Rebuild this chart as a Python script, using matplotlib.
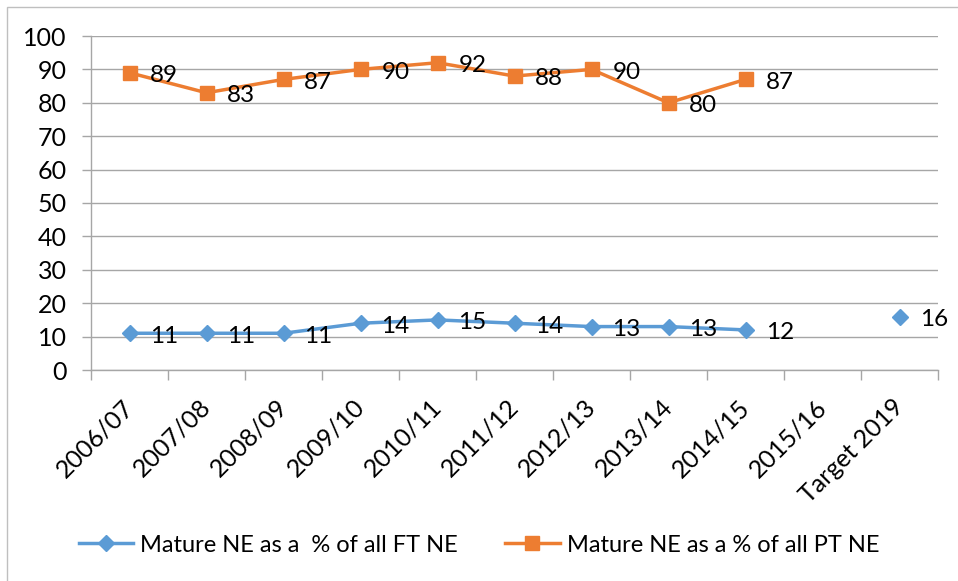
import numpy as np
import matplotlib
matplotlib.use("Agg")
import matplotlib.pyplot as plt
from matplotlib.patches import Rectangle

plt.rcParams['font.family'] = ['Lato', 'DejaVu Sans']

categories = ["2006/07", "2007/08", "2008/09", "2009/10", "2010/11", "2011/12",
              "2012/13", "2013/14", "2014/15", "2015/16", "Target 2019"]
ft_ne = [11, 11, 11, 14, 15, 14, 13, 13, 12, np.nan, 16]
pt_ne = [89, 83, 87, 90, 92, 88, 90, 80, 87, np.nan, np.nan]

blue = "#5B9BD5"
orange = "#ED7D31"
grey = "#A6A6A6"

fig = plt.figure(figsize=(9.58, 5.81), dpi=100)
ax = fig.add_axes([91/958, 1 - 370/581, (938 - 91)/958, (370 - 36)/581])

x = np.arange(len(categories))
ax.plot(x, ft_ne, color=blue, lw=2.5, marker="D", ms=8, label="Mature NE as a  % of all FT NE")
ax.plot(x, pt_ne, color=orange, lw=2.5, marker="s", ms=10, label="Mature NE as a % of all PT NE")

# data labels to the right of each point
for xs, ys in [(x, ft_ne), (x, pt_ne)]:
    for xi, yi in zip(xs, ys):
        if np.isnan(yi):
            continue
        ax.annotate(f"{yi:.0f}", (xi, yi), xytext=(15, -2), textcoords="offset points",
                    ha="left", va="center", fontsize=17.5)

ax.set_xlim(-0.5, len(categories) - 0.5)
ax.set_ylim(0, 100)
ax.set_yticks(range(0, 101, 10))
ax.yaxis.grid(True, color=grey, lw=1)
ax.set_axisbelow(True)

ax.set_xticks(x)
ax.set_xticklabels(categories, rotation=45, ha="right", va="center", rotation_mode="anchor")
ax.set_xticks(np.arange(-0.5, len(categories)), minor=True)
ax.tick_params(axis="x", which="major", length=0, pad=24, labelsize=18)
ax.tick_params(axis="x", which="minor", length=7, color=grey, width=1)
ax.tick_params(axis="y", length=6.5, color=grey, width=1, labelsize=18, pad=11)

for s in ["top", "right"]:
    ax.spines[s].set_visible(False)
for s in ["left", "bottom"]:
    ax.spines[s].set_color(grey)
    ax.spines[s].set_linewidth(1)

fig.legend(loc="center", bbox_to_anchor=(0.5, 1 - 545/581), ncol=2, frameon=False,
           fontsize=17, handlelength=2.3, columnspacing=2.0, handletextpad=0.3)

# chart border
fig.patches.append(Rectangle((7/958, -0.1), 1.2, 1 - 7/581 + 0.1, transform=fig.transFigure,
                             fill=False, edgecolor="#BFBFBF", lw=1))

fig.savefig("out.png", dpi=100)
